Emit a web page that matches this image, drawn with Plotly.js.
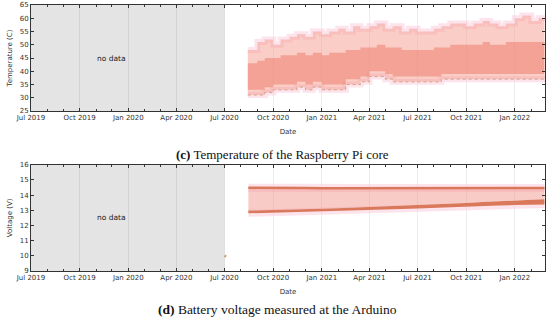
<!DOCTYPE html>
<html>
<head>
<meta charset="utf-8">
<script src="https://cdn.plot.ly/plotly-3.0.1.min.js"></script>
<style>html,body{margin:0;padding:0;background:#fff}#chart{width:550px;height:325px}</style>
</head>
<body>
<div id="chart"></div>
<script>
// ---------- Temperature of the Raspberry Pi core ----------
const tDates = ['2020-08-14','2020-09-01','2020-09-15','2020-10-01','2020-10-15','2020-11-01','2020-11-15','2020-12-01','2020-12-15',
  '2021-01-01','2021-01-15','2021-02-01','2021-02-15','2021-03-01','2021-03-15','2021-04-01','2021-04-15','2021-05-01','2021-05-15',
  '2021-06-01','2021-06-15','2021-07-01','2021-07-15','2021-08-01','2021-08-15','2021-09-01','2021-09-15','2021-10-01','2021-10-15',
  '2021-11-01','2021-11-15','2021-12-01','2021-12-15','2022-01-01','2022-01-15','2022-02-01','2022-02-15','2022-02-26'];
const tLow      = [31,31,32,33,33,33,34,33,34, 33,33,33,35,35,36,38,38,37,36, 36,36,36,36,36,37,37,37,37,37, 37,37,37,37,37,37,37,37,38];
const tHigh     = [48,51,52,50,52,53,54,53,55, 54,55,56,55,57,56,57,58,56,57, 55,56,55,55,56,57,58,58,57,58, 59,58,57,58,60,61,59,60,59];
const tCoreLow  = [33,33,34,35,35,35,36,35,36, 35,35,35,37,37,38,40,40,39,38, 38,38,38,38,38,39,39,39,39,39, 39,39,39,39,39,39,39,39,39];
const tCoreHigh = [43,44,45,45,46,46,47,46,47, 46,47,47,48,48,49,49,50,49,49, 48,48,48,48,49,49,50,50,50,50, 51,50,50,51,51,51,51,51,51];

const vDates = ['2020-08-15','2020-09-01','2020-10-01','2020-11-01','2020-12-01','2021-01-01','2021-02-01','2021-03-01','2021-04-01',
  '2021-05-01','2021-06-01','2021-07-01','2021-08-01','2021-09-01','2021-10-01','2021-11-01','2021-12-01','2022-01-01','2022-02-01','2022-02-26'];
const vTop    = [14.48,14.47,14.46,14.46,14.46,14.45,14.45,14.45,14.46,14.46,14.46,14.46,14.46,14.46,14.46,14.46,14.46,14.46,14.46,14.46];
const vBandLo = [12.80,12.82,12.85,12.88,12.90,12.93,12.96,13.00,13.03,13.06,13.09,13.12,13.17,13.22,13.26,13.30,13.32,13.34,13.36,13.38];
const vBandHi = [12.98,13.00,13.02,13.05,13.07,13.10,13.13,13.17,13.21,13.24,13.27,13.30,13.36,13.42,13.48,13.54,13.60,13.65,13.69,13.72];
const vOutDates = ['2020-07-02','2020-07-03'];
const vOut      = [9.95, 10.0];

// ---------- axes / labels ----------
const xRange = ['2019-07-01','2022-02-27'];
const noDataStart = '2019-07-01', noDataEnd = '2020-07-01';
const noDataLabel = 'no data';
const tempTitle = 'Temperature (C)', voltTitle = 'Voltage (V)', xTitle = 'Date';
const captionC = '<b>(c)</b> Temperature of the Raspberry Pi core';
const captionD = '<b>(d)</b> Battery voltage measured at the Arduino';

const HALO = 'rgba(252,200,218,0.5)';
const SPARSE = 'rgba(245,155,142,0.5)';
const CORE = 'rgba(238,120,102,0.5)';
const BAND = '#d9785a';

const traces = [
  // temperature
  {x:tDates,y:tLow,xaxis:'x',yaxis:'y',mode:'lines',line:{color:HALO,width:6,shape:'hv'},hoverinfo:'skip'},
  {x:tDates,y:tHigh,xaxis:'x',yaxis:'y',mode:'lines',line:{color:HALO,width:6,shape:'hv'},hoverinfo:'skip'},
  {x:tDates,y:tLow,xaxis:'x',yaxis:'y',mode:'lines',line:{width:0,shape:'hv'},hoverinfo:'skip'},
  {x:tDates,y:tHigh,xaxis:'x',yaxis:'y',mode:'lines',line:{width:0,shape:'hv'},fill:'tonexty',fillcolor:SPARSE},
  {x:tDates,y:tCoreLow,xaxis:'x',yaxis:'y',mode:'lines',line:{width:0,shape:'hv'},hoverinfo:'skip'},
  {x:tDates,y:tCoreHigh,xaxis:'x',yaxis:'y',mode:'lines',line:{width:0,shape:'hv'},fill:'tonexty',fillcolor:CORE},
  {x:tDates,y:tLow,xaxis:'x',yaxis:'y',mode:'lines',line:{color:'rgba(190,150,110,0.7)',width:1,dash:'dot',shape:'hv'},hoverinfo:'skip'},
  // voltage
  {x:vDates,y:vBandLo,xaxis:'x2',yaxis:'y2',mode:'lines',line:{color:HALO,width:7},hoverinfo:'skip'},
  {x:vDates,y:vTop,xaxis:'x2',yaxis:'y2',mode:'lines',line:{color:HALO,width:8},hoverinfo:'skip'},
  {x:vDates,y:vBandHi,xaxis:'x2',yaxis:'y2',mode:'lines',line:{width:0},hoverinfo:'skip'},
  {x:vDates,y:vTop,xaxis:'x2',yaxis:'y2',mode:'lines',line:{width:0},fill:'tonexty',fillcolor:'rgba(240,140,128,0.45)'},
  {x:vDates,y:vBandLo,xaxis:'x2',yaxis:'y2',mode:'lines',line:{width:0},hoverinfo:'skip'},
  {x:vDates,y:vBandHi,xaxis:'x2',yaxis:'y2',mode:'lines',line:{width:0},fill:'tonexty',fillcolor:BAND},
  {x:vDates,y:vTop,xaxis:'x2',yaxis:'y2',mode:'lines',line:{color:BAND,width:2.5}},
  {x:vOutDates,y:vOut,xaxis:'x2',yaxis:'y2',mode:'markers',marker:{color:'#c9a27a',size:2}}
];

const font = {family:'DejaVu Sans, sans-serif', size:7, color:'#333'};
function xAxis(anchor){
  return {anchor:anchor, domain:[0,1], type:'date', range:xRange, tick0:'2019-07-01', dtick:'M3', tickformat:'%b %Y',
    ticks:'inside', ticklen:3, tickwidth:1, tickcolor:'#333', mirror:'ticks', showline:true, linecolor:'#333', linewidth:1,
    minor:{dtick:'M1', ticks:'inside', ticklen:2, tickcolor:'#333', showgrid:false},
    showgrid:true, gridcolor:'rgba(0,0,0,0.07)', gridwidth:1, zeroline:false, tickfont:font,
    title:{text:xTitle, font:font, standoff:7}};
}
function yAxis(anchor, domain, range, dtick, title){
  return {anchor:anchor, domain:domain, range:range, dtick:dtick, ticks:'inside', ticklen:3, tickcolor:'#333',
    mirror:'ticks', showline:true, linecolor:'#333', linewidth:1, showgrid:false, zeroline:false, tickfont:font,
    title:{text:title, font:font, standoff:6}};
}

const layout = {
  width:550, height:325, margin:{l:31, r:5, t:5, b:0}, showlegend:false,
  paper_bgcolor:'#fff', plot_bgcolor:'#fff',
  xaxis:xAxis('y'), yaxis:yAxis('x',[0.66875,1],[25,65],5,tempTitle),
  xaxis2:xAxis('y2'), yaxis2:yAxis('x2',[0.16875,0.5009],[9,16],1,voltTitle),
  shapes:[
    {type:'rect', xref:'x', yref:'y domain', x0:noDataStart, x1:noDataEnd, y0:0, y1:1, fillcolor:'#e4e4e4', line:{width:0}, layer:'below'},
    {type:'rect', xref:'x2', yref:'y2 domain', x0:noDataStart, x1:noDataEnd, y0:0, y1:1, fillcolor:'#e4e4e4', line:{width:0}, layer:'below'}
  ],
  annotations:[
    {xref:'x', yref:'y', x:'2019-12-01', y:45, text:noDataLabel, showarrow:false, font:{family:'DejaVu Sans, sans-serif', size:7.5, color:'#222'}},
    {xref:'x2', yref:'y2', x:'2019-12-01', y:12.5, text:noDataLabel, showarrow:false, font:{family:'DejaVu Sans, sans-serif', size:7.5, color:'#222'}},
    {xref:'paper', yref:'paper', x:0.49, y:0.534, xanchor:'center', yanchor:'middle', text:captionC, showarrow:false, font:{family:'Liberation Serif, serif', size:13, color:'#111'}},
    {xref:'paper', yref:'paper', x:0.4796, y:0.05, xanchor:'center', yanchor:'middle', text:captionD, showarrow:false, font:{family:'Liberation Serif, serif', size:13.5, color:'#111'}}
  ]
};

Plotly.newPlot('chart', traces, layout, {staticPlot:true, displayModeBar:false});
</script>
</body>
</html>
